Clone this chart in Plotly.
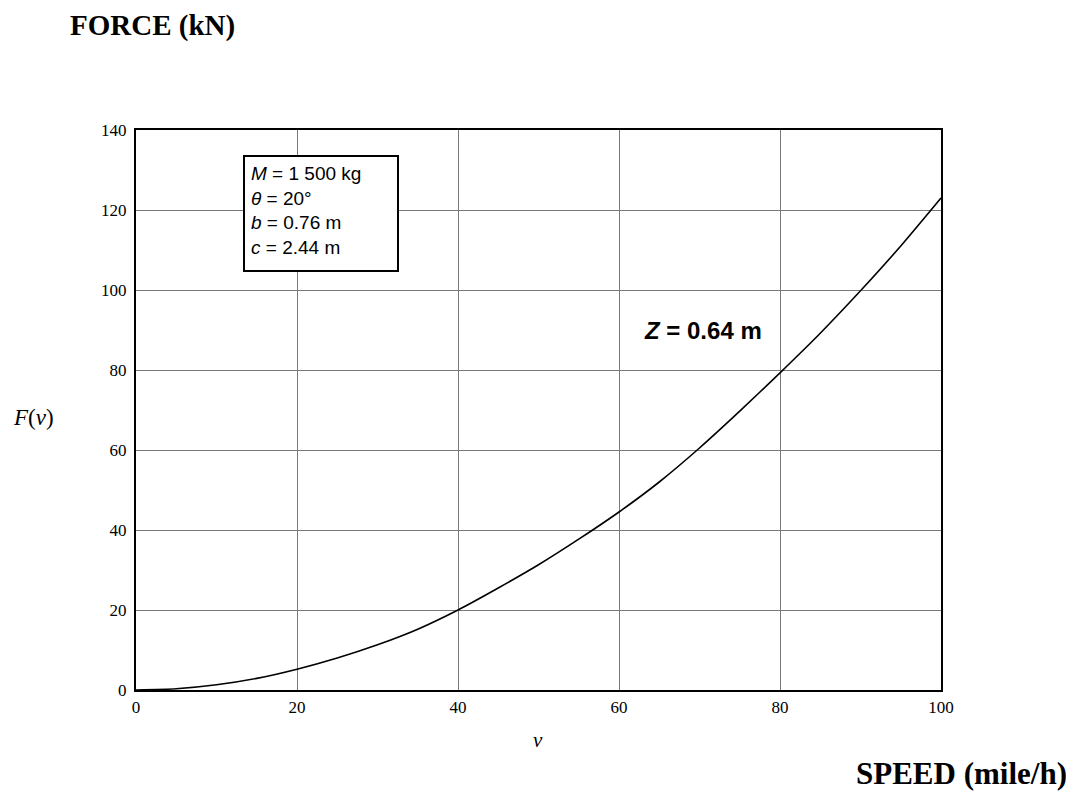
import plotly.graph_objects as go

speed = [0, 5, 10, 15, 20, 25, 30, 35, 40, 45, 50, 55, 60, 65, 70, 75, 80, 85, 90, 95, 100]
force = [0, 0.3, 1.3, 2.9, 5.2, 8.0, 11.3, 15.2, 20.0, 25.5, 31.3, 37.7, 44.5, 52.0, 60.5, 69.7, 79.3, 89.2, 99.8, 111.0, 123.0]

x_ticks = [0, 20, 40, 60, 80, 100]
y_ticks = [0, 20, 40, 60, 80, 100, 120, 140]

serif = "Liberation Serif, Times New Roman, serif"
sans = "Liberation Sans, Arial, sans-serif"

# page has an 8px body margin; plot area spans page x 136..941, y 130..690
L, T, PW, PH = 128, 122, 805, 560


def px(xp):
    return (xp - 136) / PW


def py(yp):
    return (690 - yp) / PH


fig = go.Figure()
fig.add_trace(go.Scatter(x=speed, y=force, mode="lines",
                         line=dict(color="black", width=1.6, shape="spline", smoothing=0.6),
                         showlegend=False, hoverinfo="x+y"))

fig.update_layout(
    width=1066, height=789,
    margin=dict(l=L, r=1066 - L - PW, t=T, b=789 - T - PH),
    paper_bgcolor="white", plot_bgcolor="white",
    xaxis=dict(range=[0, 100], tickvals=x_ticks, ticktext=[str(t) for t in x_ticks],
               showgrid=True, gridcolor="#7a7a7a", gridwidth=1,
               showline=True, linecolor="black", linewidth=2, mirror=True,
               zeroline=False, ticks="", ticklabelstandoff=1,
               tickfont=dict(family=serif, size=17, color="black")),
    yaxis=dict(range=[0, 140], tickvals=y_ticks, ticktext=[str(t) for t in y_ticks],
               showgrid=True, gridcolor="#7a7a7a", gridwidth=1,
               showline=True, linecolor="black", linewidth=2, mirror=True,
               zeroline=False, ticks="", ticklabelstandoff=4,
               tickfont=dict(family=serif, size=17, color="black")),
    annotations=[
        dict(text="<b>FORCE (kN)</b>", xref="paper", yref="paper",
             x=px(68), y=py(25), xanchor="left", yanchor="middle",
             showarrow=False, font=dict(family=serif, size=29, color="black")),
        dict(text="<b>SPEED (mile/h)</b>", xref="paper", yref="paper",
             x=px(1069), y=py(773), xanchor="right", yanchor="middle",
             showarrow=False, font=dict(family=serif, size=31, color="black")),
        dict(text="<i>F</i>(<i>v</i>)", xref="paper", yref="paper",
             x=px(56), y=py(417), xanchor="right", yanchor="middle",
             showarrow=False, font=dict(family=serif, size=23, color="black")),
        dict(text="<i>v</i>", xref="paper", yref="paper",
             x=px(538), y=py(740), xanchor="center", yanchor="middle",
             showarrow=False, font=dict(family=serif, size=21, color="black")),
        dict(text="<i>M</i> = 1 500 kg<br><i>θ</i> = 20°<br><i>b</i> = 0.76 m<br><i>c</i> = 2.44 m",
             xref="paper", yref="paper",
             x=px(243), y=py(155), xanchor="left", yanchor="top",
             showarrow=False, align="left", valign="top",
             width=140, height=101, borderpad=6,
             bordercolor="black", borderwidth=2, bgcolor="white",
             font=dict(family=sans, size=19, color="black")),
        dict(text="<b><i>Z</i> = 0.64 m</b>", xref="paper", yref="paper",
             x=px(703), y=py(330), xanchor="center", yanchor="middle",
             showarrow=False, font=dict(family=sans, size=24, color="black")),
    ],
)

fig.write_html("out.html")
